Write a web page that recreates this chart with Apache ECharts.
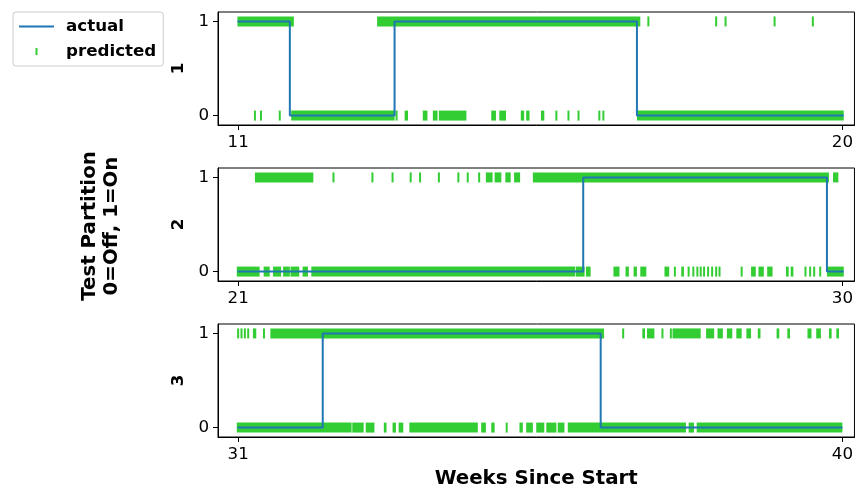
<!DOCTYPE html>
<html>
<head>
<meta charset="utf-8">
<script src="https://cdn.jsdelivr.net/npm/echarts@6/dist/echarts.min.js"></script>
<style>html,body{margin:0;padding:0;background:#fff;}#c{width:856px;height:494px;}</style>
</head>
<body>
<div id="c"></div>
<script>
// ---- data (weeks since start) ----
const panelNames = ['1', '2', '3'];
const xTicks1 = [11, 20];
const xTicks2 = [21, 30];
const xTicks3 = [31, 40];
const yTicks = [0, 1];
const yLabel = 'Test Partition\n0=Off, 1=On';
const xLabel = 'Weeks Since Start';

// actual state: [week where state begins, state]
const actual1 = [[10.99, 1], [11.77, 0], [13.33, 1], [16.94, 0], [20.02, 0]];
const actual2 = [[20.99, 0], [26.14, 1], [29.77, 0], [30.02, 0]];
const actual3 = [[30.99, 0], [32.26, 1], [36.40, 0], [40.0, 0]];

// predicted: runs [start week, end week] predicted On (1) / Off (0)
const pred1On = [[10.99, 11.83], [13.07, 16.99], [17.11, 17.11], [18.12, 18.12], [18.26, 18.26], [18.99, 18.99], [19.56, 19.56]];
const pred1Off = [[11.25, 11.25], [11.34, 11.34], [11.62, 11.62], [11.79, 13.33], [13.36, 13.36], [13.48, 13.53], [13.75, 13.82],
  [13.90, 13.97], [13.99, 14.40], [14.77, 14.84], [14.89, 14.99], [15.21, 15.26], [15.29, 15.34], [15.51, 15.56],
  [15.74, 15.74], [15.92, 15.92], [16.07, 16.07], [16.38, 16.38], [16.44, 16.44], [16.94, 20.02]];

const pred2On = [[21.25, 22.12], [22.42, 22.42], [23.00, 23.00], [23.30, 23.30], [23.57, 23.57], [23.71, 23.71], [23.99, 23.99],
  [24.28, 24.28], [24.42, 24.42], [24.59, 24.59], [24.69, 24.79], [24.82, 24.92], [24.98, 25.06], [25.11, 25.20],
  [25.39, 29.80], [29.86, 29.94]];
const pred2Off = [[20.98, 21.32], [21.38, 21.47], [21.52, 21.64], [21.67, 21.77], [21.78, 21.91], [21.96, 22.04], [22.09, 26.02],
  [26.03, 26.16], [26.18, 26.25], [26.59, 26.68], [26.77, 26.82], [26.89, 26.94], [26.99, 27.08], [27.35, 27.42],
  [27.49, 27.52], [27.60, 27.64], [27.71, 27.71], [27.78, 27.78], [27.84, 27.84], [27.89, 27.89], [27.94, 27.94],
  [28.00, 28.00], [28.06, 28.06], [28.12, 28.12], [28.17, 28.17], [28.50, 28.50], [28.64, 28.71], [28.75, 28.83],
  [28.88, 28.96], [29.16, 29.20], [29.23, 29.27], [29.45, 29.45], [29.52, 29.52], [29.58, 29.58], [29.67, 29.67],
  [29.77, 30.02]];

const pred3On = [[31.00, 31.00], [31.05, 31.05], [31.10, 31.10], [31.15, 31.15], [31.22, 31.27], [31.37, 31.40], [31.48, 36.45],
  [36.72, 36.75], [37.02, 37.06], [37.09, 37.20], [37.31, 37.33], [37.43, 37.46], [37.47, 37.89], [37.97, 38.09],
  [38.14, 38.22], [38.28, 38.36], [38.42, 38.50], [38.57, 38.64], [38.74, 38.78], [39.02, 39.06], [39.18, 39.22],
  [39.48, 39.54], [39.61, 39.68], [39.80, 39.84], [39.91, 39.95]];
const pred3Off = [[30.98, 32.69], [32.70, 32.87], [32.90, 33.03], [33.17, 33.21], [33.30, 33.35], [33.39, 33.46], [33.55, 34.57],
  [34.62, 34.69], [34.77, 34.82], [35.00, 35.00], [35.19, 35.24], [35.29, 35.39], [35.44, 35.56], [35.59, 35.74],
  [35.76, 35.86], [35.91, 37.67], [37.71, 37.79], [37.83, 40.0]];

// ---- chart ----
const FONT = '"DejaVu Sans", "Liberation Sans", sans-serif';
const BLUE = '#1f77b4';
const GREEN = '#32cd32';
const FS = 16.7;
const FS_LABEL = 19.8;

const xTickSets = [xTicks1, xTicks2, xTicks3];
const actuals = [actual1, actual2, actual3];
const predOn = [pred1On, pred2On, pred3On];
const predOff = [pred1Off, pred2Off, pred3Off];
const gridTops = [12, 168, 324];

function runs(on, off) {
  return on.map(r => [r[0], r[1], 1]).concat(off.map(r => [r[0], r[1], 0]));
}

function renderTicks(params, api) {
  const s = api.coord([api.value(0), api.value(2)]);
  const e = api.coord([api.value(1), api.value(2)]);
  let x0 = s[0], x1 = e[0];
  if (x1 - x0 < 2) { const c = (x0 + x1) / 2; x0 = c - 1; x1 = c + 1; }
  return { type: 'rect', shape: { x: x0, y: s[1] - 5, width: x1 - x0, height: 10 }, style: { fill: GREEN } };
}

const grids = [], xAxes = [], yAxes = [], series = [];
for (let i = 0; i < 3; i++) {
  const t = xTickSets[i];
  grids.push({ left: 218, top: gridTops[i], width: 637, height: 113, show: true, borderColor: '#000', borderWidth: 1, backgroundColor: 'transparent' });
  xAxes.push({
    type: 'value', gridIndex: i, min: t[0] - 0.3, max: t[1] + 0.18, position: 'bottom',
    axisLine: { show: true, onZero: false, lineStyle: { color: '#000', width: 1 } },
    axisTick: { show: true, length: 5, lineStyle: { color: '#000', width: 1 }, customValues: t },
    axisLabel: { show: true, customValues: t, color: '#000', fontSize: FS, fontFamily: FONT, margin: 9 },
    splitLine: { show: false },
    name: i === 2 ? xLabel : '', nameLocation: 'middle', nameGap: 32,
    nameTextStyle: { fontSize: FS_LABEL, fontWeight: 'bold', color: '#000', fontFamily: FONT }
  });
  yAxes.push({
    type: 'value', gridIndex: i, min: -0.1, max: 1.1, position: 'left',
    axisLine: { show: true, onZero: false, lineStyle: { color: '#000', width: 1 } },
    axisTick: { show: true, length: 5, lineStyle: { color: '#000', width: 1 }, customValues: yTicks },
    axisLabel: { show: true, customValues: yTicks, color: '#000', fontSize: FS, fontFamily: FONT, margin: 9 },
    splitLine: { show: false },
    name: panelNames[i], nameLocation: 'middle', nameGap: 22, nameRotate: 90,
    nameTextStyle: { fontSize: FS, fontWeight: 'bold', color: '#000', fontFamily: FONT }
  });
  series.push({
    name: 'predicted', type: 'custom', xAxisIndex: i, yAxisIndex: i,
    renderItem: renderTicks, encode: { x: [0, 1], y: 2 },
    itemStyle: { color: GREEN }, data: runs(predOn[i], predOff[i]), z: 2, silent: true
  });
  series.push({
    name: 'actual', type: 'line', xAxisIndex: i, yAxisIndex: i, step: 'end',
    symbol: 'none', lineStyle: { color: BLUE, width: 2 }, itemStyle: { color: BLUE },
    data: actuals[i], z: 3, silent: true, animation: false
  });
}

const chart = echarts.init(document.getElementById('c'), null, { renderer: 'canvas' });
chart.setOption({
  animation: false,
  backgroundColor: '#fff',
  textStyle: { fontFamily: FONT },
  grid: grids, xAxis: xAxes, yAxis: yAxes, series: series,
  legend: {
    left: 13, top: 12, orient: 'vertical',
    padding: [6, 7, 6, 6],
    itemWidth: 35, itemHeight: 7, itemGap: 8,
    symbolKeepAspect: true,
    borderColor: '#cccccc', borderWidth: 1, borderRadius: 3,
    textStyle: { fontSize: FS, fontWeight: 'bold', color: '#000', fontFamily: FONT, lineHeight: 17, padding: [0, 0, 0, 7] },
    data: [
      { name: 'actual', icon: 'path://M0,0h35v2h-35z', itemStyle: { color: BLUE } },
      { name: 'predicted', icon: 'path://M0,0h2v7h-2z', itemStyle: { color: GREEN } }
    ]
  },
  graphic: [{
    type: 'text', x: 101, y: 226, rotation: Math.PI / 2,
    style: { text: yLabel, font: 'bold ' + FS_LABEL + 'px ' + FONT, fill: '#000', align: 'center', verticalAlign: 'middle', lineHeight: 22 }
  }]
});
</script>
</body>
</html>
